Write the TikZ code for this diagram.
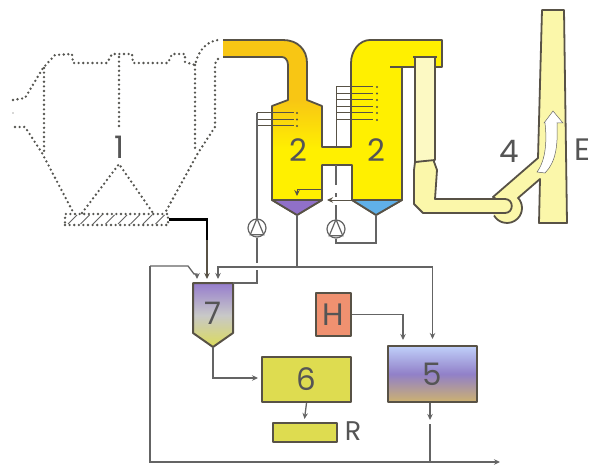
\documentclass[tikz,border=0pt]{standalone}
\usepackage{fontspec}
\setmainfont{Poppins}
\usepackage{xcolor}
\usetikzlibrary{arrows.meta, shapes.geometric}
\definecolor{wallC}{RGB}{ 88, 82, 70}
\definecolor{pipeC}{RGB}{100,100,100}
\definecolor{dotC}{RGB}{ 85, 85, 80}
\definecolor{txtC}{RGB}{ 85, 85, 85}
\definecolor{yelC}{RGB}{255,240,  0}
\definecolor{oraC}{RGB}{248,198, 20}
\definecolor{paleC}{RGB}{251,247,170}
\definecolor{oliveC}{RGB}{222,220, 80}
\pgfdeclareverticalshading{ductfade}{100bp}{color(0bp)=(yelC); color(25bp)=(yelC); color(48bp)=(oraC); color(100bp)=(oraC)}
\newcommand{\scrubberpath}{(223,40) -- (283,40) .. controls (298,40) and (307,50) .. (307,63)
  -- (307,100) -- (322,106) -- (322,147) -- (351,147) -- (351,63)
  .. controls (351,50) and (360,40) .. (370,40) -- (442,40) -- (442,67) -- (402,67)
  -- (402,200) -- (376,215) -- (352,200) -- (352,165) -- (322,165) -- (322,200)
  -- (297,215) -- (272,200) -- (272,106) -- (288,100) -- (288,65)
  .. controls (288,60) and (285,57) .. (282,57) -- (223,57)}

\begin{document}
\begin{tikzpicture}[x=1pt, y=-1pt,
    wall/.style={draw=wallC, line width=1.8pt, line join=round},
    pipe/.style={draw=pipeC, line width=1.3pt},
    dots/.style={draw=dotC, line width=2.6pt, line cap=round, dash pattern=on 0pt off 4.6pt},
    tip/.style={-{Stealth[length=6pt, width=5.5pt]}},
    lbl/.style={font=\fontsize{31}{31}\selectfont, text=txtC, inner sep=0pt},
    box/.style={wall, line width=2pt, inner sep=0pt, font=\fontsize{31}{31}\selectfont, text=txtC},
    pump/.style={circle, draw=pipeC, line width=1.2pt, fill=white, minimum size=18pt, inner sep=0pt}
  ]
  \useasboundingbox (0,0) rectangle (589,468);

  % boiler, dotted
  \draw[dots] (13,100) -- (25,98) -- (43,68) -- (55,55) -- (72,54) -- (73,63) -- (107,63)
    -- (112,54) -- (132,54) -- (133,63) -- (168,63) -- (172,54) -- (185,54) -- (185,62) -- (195,65)
    .. controls (198,52) and (205,42) .. (218,40);
  \draw[dots] (218,59) .. controls (216,60) and (215,63) .. (215,67) -- (215,127) -- (198,153)
    -- (165,213);
  \draw[dots] (195,65) -- (195,150);
  \draw[dots] (44,68) -- (44,153);
  \draw[dots] (15,127) -- (25,127) -- (42,153) -- (73,212);
  \draw[dots] (119,57) -- (119,130);
  \draw[dots] (82,213) -- (119,164) -- (153,213);
  \fill[dotC] (13,113) circle (0.6pt);
  \foreach \i in {0,...,7} {
    \draw[pipeC, line width=0.9pt] (68+12.5*\i,224) -- (77+12.5*\i,215);
  }
  \node[dots, draw, minimum width=103pt, minimum height=11pt, inner sep=0pt] (ashBox) at (116.5,219.5) {};
  \node[lbl] (lblA) at (119,147) {1};

  % scrubbers
  \fill[yelC] \scrubberpath;
  \shade[shading=ductfade] (223,40) -- (283,40) .. controls (298,40) and (307,50) .. (307,63)
    -- (307,100) -- (322,106) -- (322,150) -- (272,150) -- (272,106) -- (288,100) -- (288,65)
    .. controls (288,60) and (285,57) .. (282,57) -- (223,57) -- cycle;
  \draw[wall] \scrubberpath;
  \draw[wall] (390,67) -- (402,67);
  \draw[wall, fill={rgb,255:red,144;green,112;blue,200}] (272,200) -- (322,200) -- (297,215) -- cycle;
  \draw[wall, fill={rgb,255:red,96;green,176;blue,232}] (352,200) -- (402,200) -- (376,215) -- cycle;
  \node[lbl] (lblB) at (298,150) {2};
  \node[lbl] (lblC) at (376,150) {2};

  % sprays
  \foreach \i/\y in {0/113, 1/119.5, 2/126} {
    \coordinate (sprayA\i) at (257,\y);
    \draw[wallC, line width=1pt] (sprayA\i) -- +(37,0);
    \fill[wallC] (297,\y) circle (1.2pt);
  }
  \foreach \i/\y in {0/87, 1/93.5, 2/100, 3/107, 4/113, 5/120} {
    \coordinate (sprayB\i) at (336,\y);
    \draw[wallC, line width=1pt] (sprayB\i) -- +(37,0);
    \fill[wallC] (377,\y) circle (1.2pt);
  }
  \draw[wallC, line width=1pt] (sprayB0) -- (336,147);

  % duct and stack
  \draw[wall, fill=paleC] (542,10) -- (564,10) -- (567,223) -- (539,223) -- (540,179) -- (518,198)
    -- (505,205) -- (493,197) -- (538,158) -- cycle;
  \fill[paleC] (507,208) circle (15);
  \draw[wall] (517.6,197.4) arc[start angle=-45, end angle=150, radius=15];
  \draw[wall, fill=paleC] (415,162) -- (433,159) -- (437,170) -- (435,199) -- (505,199)
    .. controls (514,199) and (514,213) .. (505,213) -- (423,213) -- (414,204) -- (414,170) -- cycle;
  \draw[wall, fill=paleC!70!white] (415,57) -- (435,57) -- (435,160) -- (415,162) -- cycle;
  \draw[wall] (413,57) -- (437,57);
  \draw[pipeC, fill=white, line width=0.5pt] (537,172) .. controls (546,160) and (547,140) .. (545,123)
    -- (544,123) -- (553,111) -- (563,123) -- (557,123) .. controls (558,145) and (556,162) .. (545,173) -- cycle;
  \node[lbl] (lblD) at (509,151) {4};
  \node[lbl] (lblE) at (582,150) {E};

  % pumps
  \node[pump] (pumpA) at (257,228) {};
  \node[pump] (pumpB) at (336,229) {};
  \foreach \p in {pumpA, pumpB} {
    \draw[pipeC, line width=1.2pt] (\p.north) -- (\p.south west) -- (\p.south east) -- cycle;
  }

  % vessels and boxes
  \draw[wall, line width=2pt, top color={rgb,255:red,150;green,125;blue,205},
        bottom color={rgb,255:red,220;green,220;blue,90}, middle color={rgb,255:red,200;green,200;blue,200}]
    (193,283) coordinate (silo) -- (233,283) coordinate (siloE) -- (233,333) -- (213,347) coordinate (siloS) -- (193,333) -- cycle;
  \node[lbl] (lblF) at (213,313) {7};
  \node[box, fill={rgb,255:red,240;green,145;blue,112}, minimum width=35pt, minimum height=43pt] (boxH) at (333.5,314.5) {H};
  \node[box, top color={rgb,255:red,192;green,208;blue,250}, bottom color={rgb,255:red,205;green,178;blue,112},
        middle color={rgb,255:red,145;green,128;blue,200}, minimum width=89pt, minimum height=56pt] (boxE) at (432.5,374) {5};
  \node[box, fill=oliveC, minimum width=89pt, minimum height=45pt] (boxF) at (306.5,379.5) {6};
  \node[box, fill=oliveC, minimum width=64pt, minimum height=19pt] (boxR) at (305,432.5) {};
  \node[lbl, font=\fontsize{27}{27}\selectfont] (lblR) at (353,431) {R};

  % connectors
  \coordinate (mainL) at (218,267);
  \coordinate (mainM) at (297,267);
  \coordinate (hopL) at (297,215);
  \coordinate (hopR) at (376,215);
  \draw[black, line width=2.2pt] (ashBox.east) -| (207,240);
  \draw[wallC, line width=1.6pt, tip] (207,240) -- (207,279);
  \draw[pipe] (hopL) -- (mainM);
  \draw[pipe, tip] (mainM) -- (mainL) -- (218,279);
  \draw[pipe, tip, shorten >=6pt] (mainM) -| (boxE.north);
  \draw[pipe, tip] (150,266) -- (188,266) -- (194,274) -- (197,274) -- (197,279);
  \draw[pipe] (150,266) -- (150,462) -- (430,462);
  \draw[pipe, tip] (430,462) -- (500,462);
  \draw[pipe, tip] (boxE.south -| 430,402) -- (430,420);
  \draw[pipe] (430,424) -- (430,462);
  \draw[pipe, tip, shorten >=6pt] (boxH.east) -| (403,346);
  \draw[pipe, tip] (siloS) |- (258,378);
  \draw[pipe, tip] (boxF.south) -- (304.5,419);
  \draw[pipe] (siloE) -- (257,283) -- (257,270);
  \draw[pipe] (257,263) -- (pumpA.south);
  \draw[pipe] (pumpA.north) -- (sprayA0);
  \draw[pipe] (pumpB.south) -- (336,243) -| (hopR);
  \draw[pipe] (pumpB.north) -- (336,205);
  \draw[pipe] (336,197) -- (336,193);
  \draw[pipe] (336,185) -- (336,165);
  \draw[wallC, line width=1pt, tip] (322,189) -- (297,189) -- (297,196);
  \draw[wallC, line width=1pt, tip] (352,200) -- (327,200);
\end{tikzpicture}
\end{document}
